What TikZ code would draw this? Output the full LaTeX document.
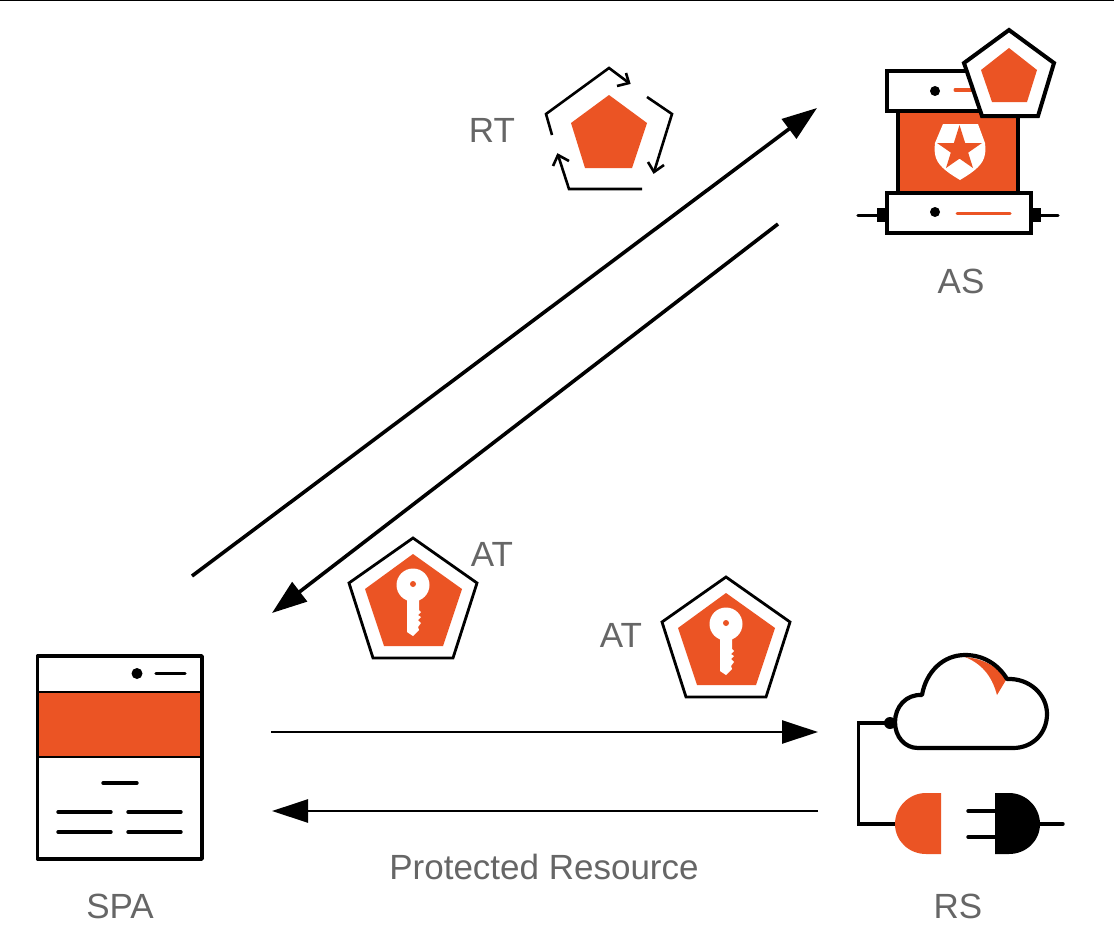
\documentclass[tikz,border=0pt]{standalone}
\usepackage{fontspec}
\setmainfont{Liberation Sans}
\usetikzlibrary{arrows.meta}
\definecolor{brand}{HTML}{EB5424}
\definecolor{labelgray}{HTML}{666666}
\tikzset{
  outline/.style={draw=black,line width=3.4pt,line join=miter},
  cloudline/.style={draw=black,line width=4.2pt,line join=round},
  wire/.style={draw=black,line width=3.4pt},
  dashline/.style={draw=black,line width=3.4pt,line cap=round},
  branddash/.style={draw=brand,line width=3pt,line cap=round},
  flow/.style={draw=black,line width=3.6pt,-{Triangle[length=35pt,width=24pt]}},
  flowthin/.style={draw=black,line width=2.6pt,-{Triangle[length=36pt,width=23pt]}},
  cycle arrow/.style={draw=black,line width=2.6pt,line join=miter},
  caption/.style={text=labelgray,font=\fontsize{35}{38}\selectfont,inner sep=0pt,anchor=center}
}
% key token: framed pentagon holding a white key
\newcommand{\keytoken}[1]{%
  \begin{scope}[shift={#1}]
    \draw[black,line width=2.8pt,fill=white] (413,538)--(477,583)--(453,658)--(373,658)--(349,583)--cycle;
    \fill[brand] (413,554)--(462,589)--(443,646)--(384,646)--(365,589)--cycle;
    \fill[white] (413,585) circle[radius=16.5pt];
    \fill[white] (419,595)--(419,610)--(421,612)--(418,615)--(421,617)--(418,620)--(421,623)--(418,627)--(419,630)--(413,636)--(407,632)--(407,595)--cycle;
    \fill[brand] (413,584) circle[radius=3pt];
  \end{scope}}
\begin{document}
\begin{tikzpicture}[x=1pt,y=-1pt]
\useasboundingbox (0,0) rectangle (1114,950);
\fill[white] (0,0) rectangle (1114,950);
\draw[black,line width=1.5pt] (0,0.7)--(1114,0.7);

% flow end points
\coordinate (spaUp) at (192,576);
\coordinate (asIn) at (817,108);
\coordinate (asOut) at (778,224);
\coordinate (spaIn) at (272,613);
\coordinate (spaOut) at (271,732);
\coordinate (rsIn) at (818,732);
\coordinate (rsOut) at (818,811);
\coordinate (spaBack) at (272,811);
\draw[flow] (spaUp)--(asIn);
\draw[flow] (asOut)--(spaIn);
\draw[flowthin] (spaOut)--(rsIn);
\draw[flowthin] (rsOut)--(spaBack);

% single page app window
\fill[brand] (38,692) rectangle (202,757);
\draw[black,line width=2pt] (38,692)--(202,692) (38,757)--(202,757);
\draw[outline,line join=round] (37.5,656) rectangle (202,859);
\fill[black] (137,673.5) circle[radius=5.5pt];
\draw[dashline] (156,673.5)--(185,673.5);
\draw[dashline] (103,783)--(137,783);
\draw[dashline] (58,812)--(111,812) (128,812)--(181,812);
\draw[dashline] (58,832)--(111,832) (128,832)--(181,832);

% authorization server
\draw[outline,fill=white] (887,71) rectangle (1020,111);
\fill[black] (935,91) circle[radius=5pt];
\draw[branddash] (955,90)--(975,90);
\draw[outline,fill=brand] (898,111) rectangle (1018,193);
\draw[outline,fill=white] (887,193) rectangle (1031,233);
\fill[black] (935,212) circle[radius=5pt];
\draw[branddash] (957,213.5)--(1010,213.5);
\fill[black] (877,208) rectangle (887,222);
\fill[black] (1031,208) rectangle (1041,222);
\draw[wire,line cap=round] (858,215.5)--(877,215.5) (1041,215.5)--(1058,215.5);
\fill[white] (943,124)--(978,124)--(985,143) .. controls (986,150) and (985,155) .. (984,158) .. controls (981,167) and (970,174) .. (960,180) .. controls (950,174) and (939,167) .. (936,158) .. controls (935,155) and (934,150) .. (935,143)--cycle;
\fill[brand] (959.5,125)--(973,168)--(937,143)--(982,143)--(946,168)--cycle;
\draw[black,line width=4pt,fill=white,line join=miter] (1009,30)--(1054,63)--(1038,116)--(982,116)--(964,63)--cycle;
\fill[brand] (1009,48)--(1037,70)--(1027,102)--(992,102)--(981,70)--cycle;

% refresh token with rotation arrows
\fill[brand] (609,95)--(647,123)--(632,168)--(585,168)--(571,123)--cycle;
\draw[cycle arrow] (552,135)--(546,114)--(609,68)--(629,83);
\draw[cycle arrow] (626,73)--(629,83)--(617,86);
\draw[cycle arrow] (647,97)--(672,114)--(654,172);
\draw[cycle arrow] (648,162)--(654,172)--(664,165);
\draw[cycle arrow] (642,189)--(569,189)--(558,155);
\draw[cycle arrow] (553,166)--(558,155)--(569,161);

% access tokens
\keytoken{(0,0)}
\keytoken{(313,39)}

% resource server: cloud and plug
\fill[brand] (965,657) .. controls (985,659) and (998,667) .. (1006,680) -- (997,695) .. controls (993,680) and (985,665) .. (965,657) -- cycle;
\draw[cloudline] (918,748) -- (1013,748) .. controls (1033,748) and (1047,733) .. (1047,714) .. controls (1047,695) and (1030,678) .. (1007,679) .. controls (998,664) and (983,655) .. (965,655) .. controls (943,655) and (926,672) .. (922,695) .. controls (906,694) and (895,707) .. (895,722) .. controls (895,737) and (905,748) .. (918,748) -- cycle;
\fill[black] (890,723) circle[radius=6pt];
\draw[wire,line join=miter] (890,723)--(858.5,723)--(858.5,824)--(897,824);
\fill[brand] (941,793)--(926,793) .. controls (909,793) and (895,807) .. (895,824) .. controls (895,841) and (909,854) .. (926,854) -- (941,854) -- cycle;
\fill[black] (995,793)--(1009,793) .. controls (1026,793) and (1040,807) .. (1040,824) .. controls (1040,841) and (1026,854) .. (1009,854) -- (995,854) -- cycle;
\draw[wire,line cap=round] (968,811)--(995,811) (968,837)--(995,837) (1040,824)--(1063,824);

% captions
\node[caption] (lblSpa) at (120,906) {SPA};
\node[caption] (lblAs) at (961,281) {AS};
\node[caption] (lblRs) at (958,906) {RS};
\node[caption] (lblRt) at (492,130) {RT};
\node[caption] (lblAtOne) at (492,554) {AT};
\node[caption] (lblAtTwo) at (621,635) {AT};
\node[caption] (lblRes) at (544,867) {Protected Resource};
\end{tikzpicture}
\end{document}
